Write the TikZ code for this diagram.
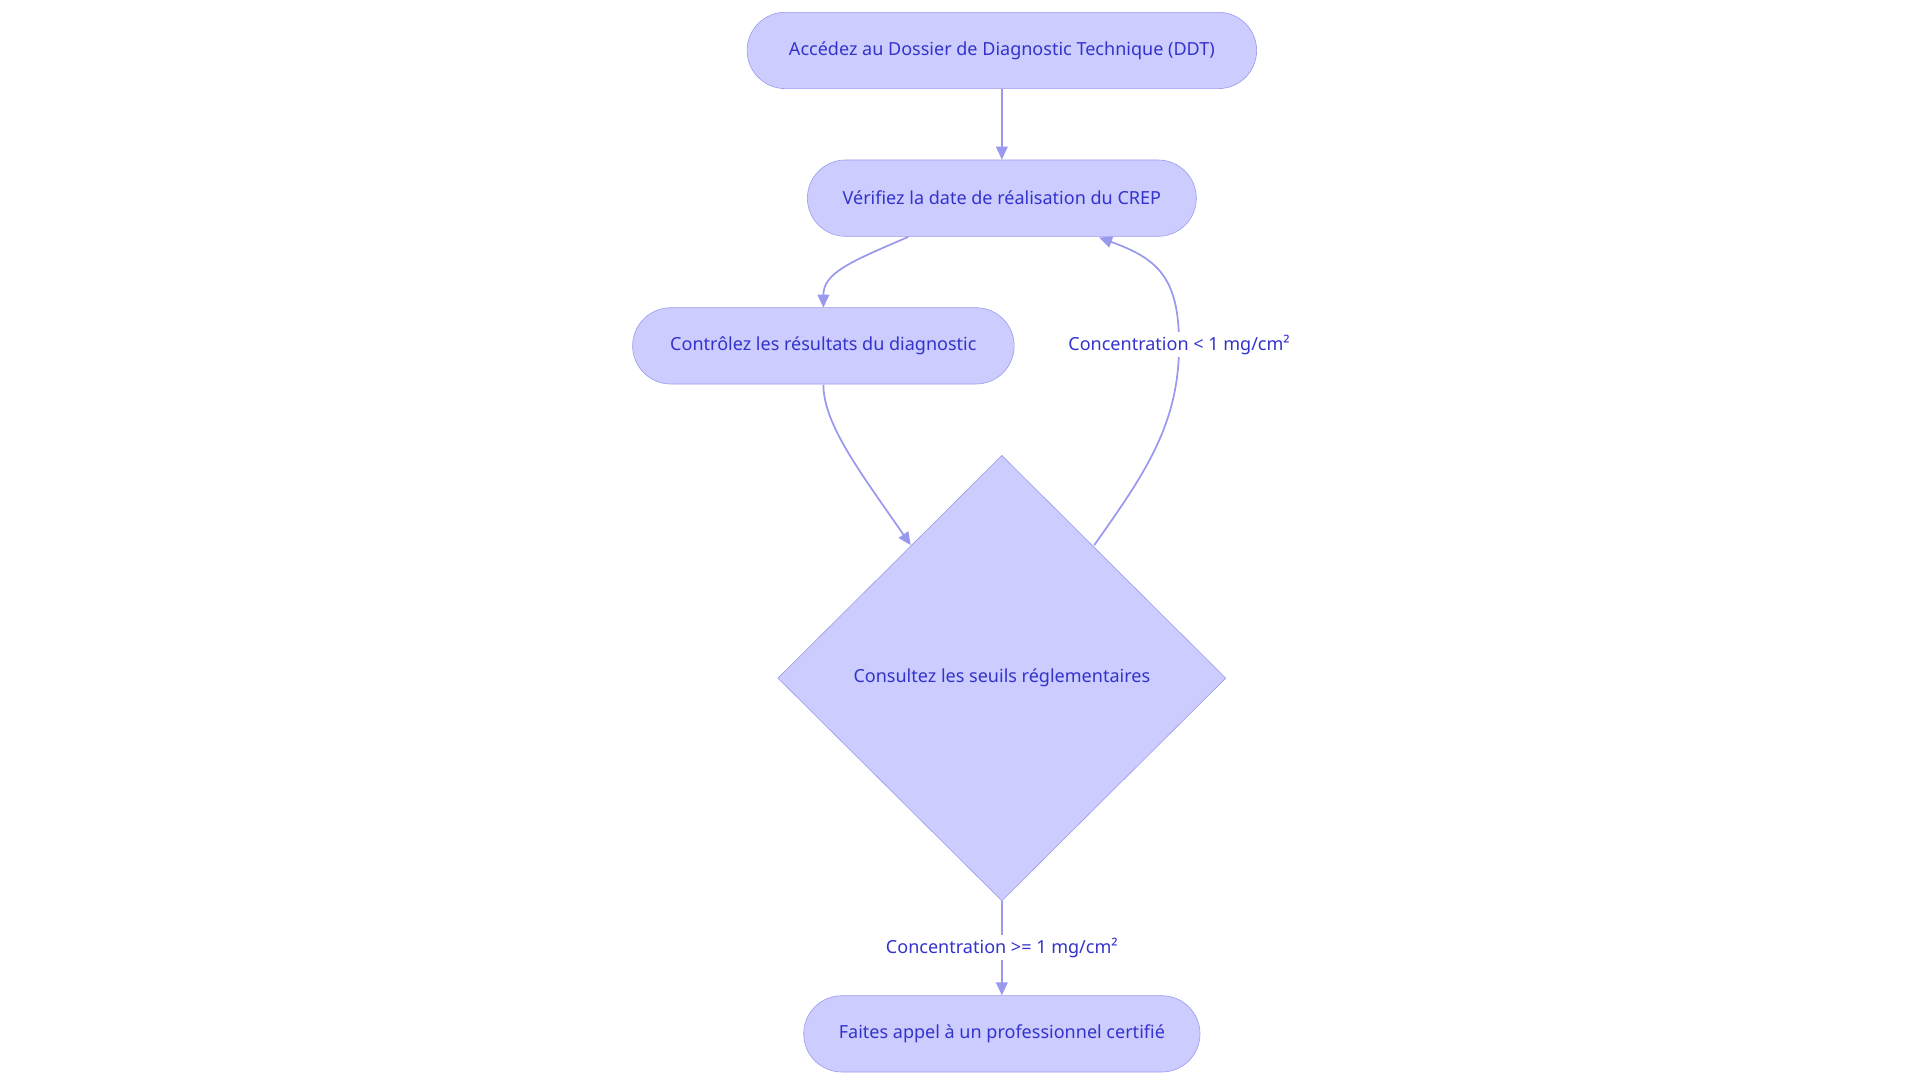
\documentclass[tikz,border=0pt]{standalone}
\usepackage{fontspec}
\setmainfont{Noto Sans}
\usetikzlibrary{shapes.geometric,arrows.meta}
\definecolor{nf}{HTML}{CCCCFF}
\definecolor{ns}{HTML}{9999EE}
\definecolor{tx}{HTML}{3333CC}
\begin{document}
\begin{tikzpicture}[x=0.03cm,y=-0.03cm,
  box/.style={draw=ns,fill=nf,rounded corners=0.93cm,minimum height=1.86cm,text=tx,font=\fontsize{12.5}{14}\selectfont,inner sep=0pt},
  lab/.style={fill=white,text=tx,font=\fontsize{12.5}{14}\selectfont,inner sep=2pt},
  ar/.style={draw=ns,line width=1.2pt,-{Triangle[length=9pt,width=8pt]}}]
\useasboundingbox (0,0) rectangle (1560,880);
\node[box,minimum width=12.42cm] (A) at (814,41) {Accédez au Dossier de Diagnostic Technique (DDT)};
\node[box,minimum width=9.48cm] (B) at (814,161) {Vérifiez la date de réalisation du CREP};
\node[box,minimum width=9.3cm] (C) at (669,281) {Contrôlez les résultats du diagnostic};
\node[draw=ns,fill=nf,diamond,minimum width=10.92cm,minimum height=10.86cm,inner sep=0pt] (D) at (814,551) {};
\node[text=tx,font=\fontsize{12.5}{14}\selectfont] (Dt) at (814,551) {Consultez les seuils réglementaires};
\node[box,minimum width=9.66cm] (E) at (814,840) {Faites appel à un professionnel certifié};
\coordinate (c1) at (738,192.5);
\coordinate (c2) at (669,312.5);
\coordinate (c3) at (740,443);
\coordinate (c4) at (889,443);
\coordinate (c5) at (893,193);
\draw[ar] (A) -- (B);
\draw[ar] (c1) .. controls (690,213) and (669,222) .. (669,250);
\draw[ar] (c2) .. controls (669,345) and (700,385) .. (c3);
\draw[ar] (c4) .. controls (930,385) and (958,345) .. (958,280) .. controls (958,225) and (940,210) .. (c5);
\node[lab] (L1) at (958,280) {Concentration < 1 mg/cm²};
\draw[ar] (D.south) -- (E.north);
\node[lab] (L2) at (814,770) {Concentration >= 1 mg/cm²};
\end{tikzpicture}
\end{document}
